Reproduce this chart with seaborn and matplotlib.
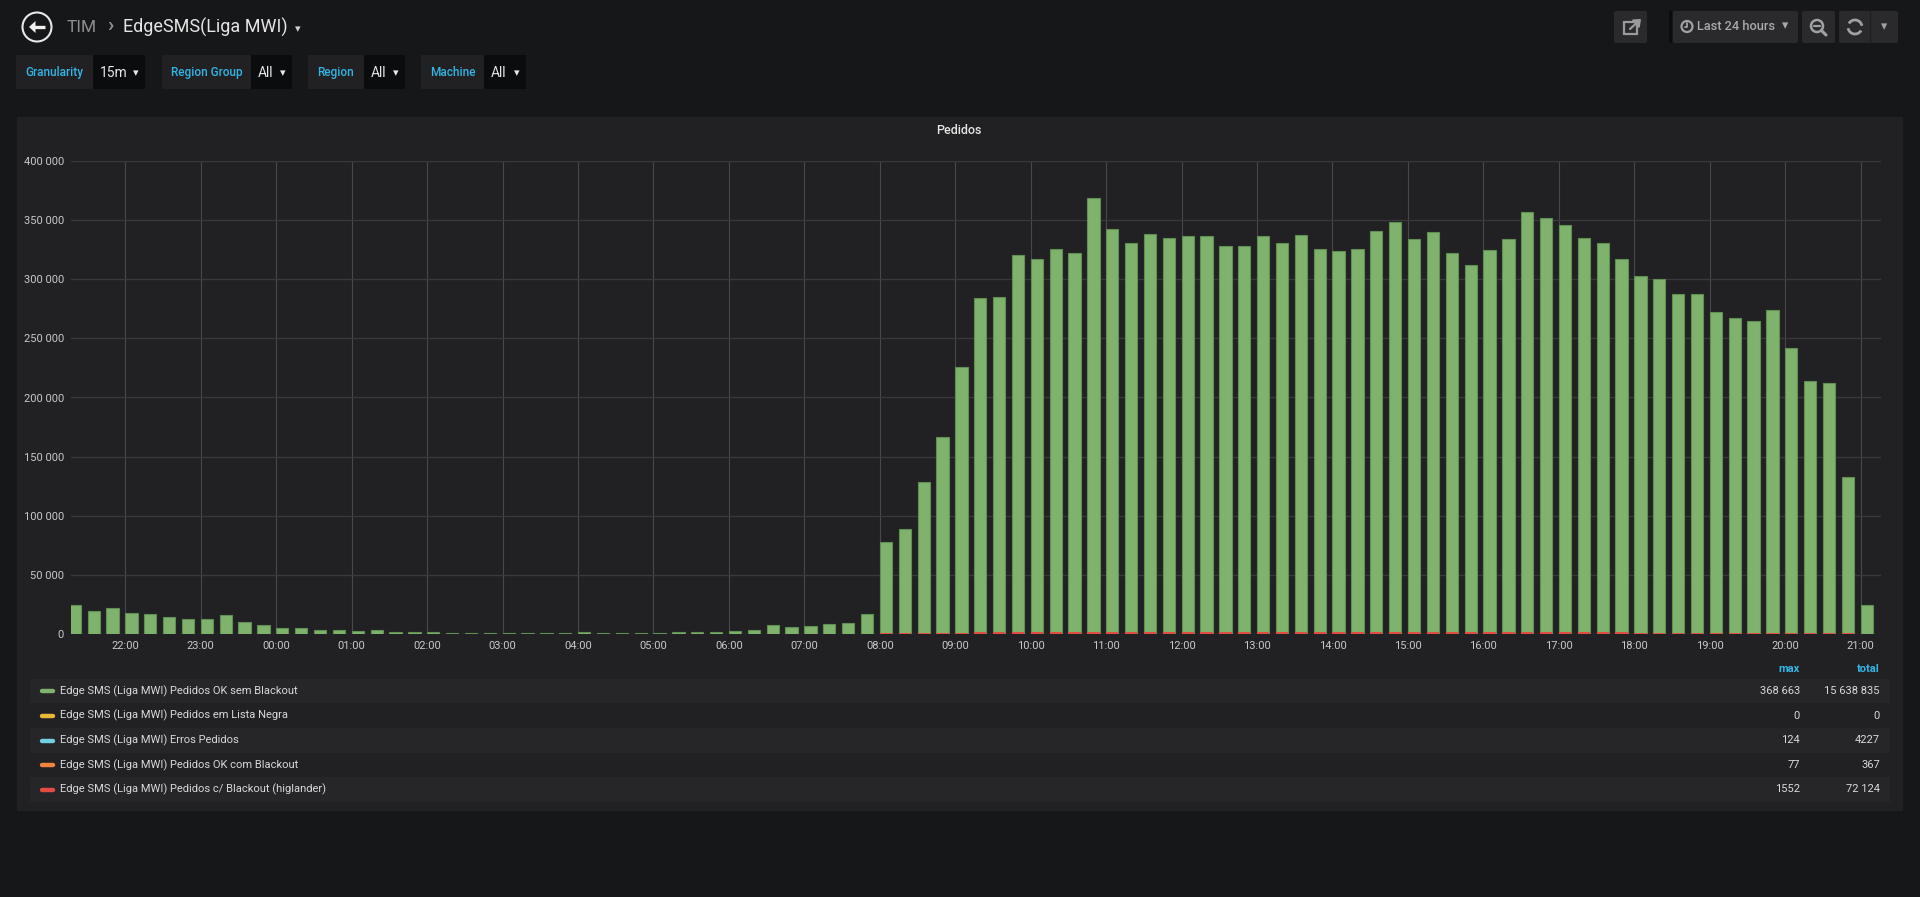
import matplotlib
matplotlib.use("Agg")
import matplotlib.pyplot as plt
from matplotlib.patches import Rectangle, Circle, FancyBboxPatch, Arc, Polygon
from matplotlib.ticker import FuncFormatter, MultipleLocator
import pandas as pd
import seaborn as sns

W, H = 1920, 897

# 15 minute buckets, last 24 hours
start_time = "2019-05-20 21:15"

ok_sem_blackout = [
    24900, 19500, 22100, 18100, 16700, 14400, 12700, 12700, 15800, 10500, 7400,
    4800, 5400, 3100, 3400, 2500, 3100, 1700, 1700, 1400, 1100, 1100, 1100, 1100,
    850, 850, 850, 1400, 600, 600, 850, 600, 1400, 1400, 2000, 2500, 3700, 7900,
    5700, 7100, 8200, 9000, 17300, 77800, 88600, 128500, 166700, 225700, 284500,
    285300, 320900, 317500, 325200, 322300, 368663, 342100, 330800, 338400,
    334500, 336500, 336700, 328300, 327700, 336500, 330800, 337000, 325400,
    324000, 325700, 341000, 348000, 334200, 339600, 322300, 312200, 324900,
    333900, 356500, 351400, 346300, 334500, 330800, 317500, 303100, 300300,
    287900, 287300, 272300, 267200, 264700, 273700, 241500, 214100, 212400,
    132500, 24900,
]

blackout_higlander = [
    420, 350, 380, 330, 300, 270, 240, 240, 290, 200, 150,
    100, 110, 70, 70, 50, 60, 40, 40, 30, 30, 30, 30, 30,
    20, 20, 20, 30, 20, 20, 20, 20, 30, 30, 40, 50, 70, 150,
    110, 140, 160, 170, 330, 800, 900, 1050, 1150, 1250, 1300,
    1320, 1380, 1350, 1400, 1380, 1552, 1420, 1380, 1400,
    1390, 1400, 1410, 1370, 1360, 1400, 1380, 1400, 1350,
    1340, 1350, 1410, 1440, 1390, 1410, 1340, 1300, 1350,
    1380, 1470, 1450, 1430, 1390, 1370, 1320, 1260, 1250,
    1200, 1190, 1130, 1110, 1100, 1140, 1000, 890, 880,
    550, 100,
]

legend_names = [
    "Edge SMS (Liga MWI) Pedidos OK sem Blackout",
    "Edge SMS (Liga MWI) Pedidos em Lista Negra",
    "Edge SMS (Liga MWI) Erros Pedidos",
    "Edge SMS (Liga MWI) Pedidos OK com Blackout",
    "Edge SMS (Liga MWI) Pedidos c/ Blackout (higlander)",
]
legend_colors = ["#7eb26d", "#eab839", "#6ed0e0", "#ef843c", "#e24d42"]
legend_max = ["368 663", "0", "124", "77", "1552"]
legend_total = ["15 638 835", "0", "4227", "367", "72 124"]

variables = ["Granularity", "Region Group", "Region", "Machine"]
variable_values = ["15m", "All", "All", "All"]

BG = "#161719"
PANEL = "#212124"
TEXT = "#d8d9da"
BLUE = "#33b5e5"

sns.set_theme(style="dark")
plt.rcParams["font.family"] = ["Roboto", "DejaVu Sans"]

times = pd.date_range(start_time, periods=len(ok_sem_blackout), freq="15min")
df = pd.DataFrame({"time": times, "ok": ok_sem_blackout, "hig": blackout_higlander})
df["minutes"] = (df["time"] - df["time"].iloc[0]).dt.total_seconds() / 60
bar_frac = 0.65
# grafana puts the left edge of each bar on its timestamp
df["mid"] = df["minutes"] + 15 * bar_frac / 2

fig = plt.figure(figsize=(W / 100, H / 100), dpi=100, facecolor=BG)

# background layer in pixel coordinates
bg = fig.add_axes([0, 0, 1, 1], zorder=0)
bg.set_xlim(0, W)
bg.set_ylim(H, 0)
bg.axis("off")
bg.set_facecolor(BG)

bg.add_patch(Rectangle((17, 117), 1886, 694, color=PANEL, lw=0))

# header: back button
bg.add_patch(Circle((37, 27), 14.5, fc="none", ec="#e8e8e8", lw=1.5))
bg.plot([33, 44.5], [27, 27], color="#f0f0f0", lw=2.4, solid_capstyle="butt")
bg.add_patch(Polygon([(29, 27), (35.5, 21), (35.5, 33)], closed=True,
                     fc="#f0f0f0", ec="none"))
bg.text(67, 27, "TIM", color="#8e8e8e", fontsize=12.5, va="center")
bg.text(110, 26, "\u203a", color="#8e8e8e", fontsize=15, va="center", ha="center",
        weight="bold")
bg.text(123, 27, "EdgeSMS(Liga MWI)", color="#e6e6e6", fontsize=13, va="center")
bg.text(298, 29, "\u25be", color="#d0d0d0", fontsize=8, va="center", ha="center",
        family="DejaVu Sans")

# variable pickers
var_boxes = [(16, 93, 145), (162, 251, 292), (308, 364, 405), (421, 484, 526)]
for (x0, x1, x2), lab, val in zip(var_boxes, variables, variable_values):
    bg.add_patch(Rectangle((x0, 55), x1 - x0, 34, color="#212124", lw=0))
    bg.add_patch(Rectangle((x1, 55), x2 - x1, 34, color="#0b0c0e", lw=0))
    bg.text((x0 + x1) / 2, 72.5, lab, color=BLUE, fontsize=8.5, weight="medium",
            ha="center", va="center")
    bg.text(x1 + 7, 73, val, color="#e8e8e8", fontsize=10, va="center")
    bg.text(x2 - 9, 73, "\u25be", color="#e8e8e8", fontsize=8, va="center",
            ha="center", family="DejaVu Sans")

# top right buttons
btn = "#2a2a2d"
for x0, x1 in [(1614, 1647), (1673, 1798), (1802, 1835), (1839, 1898)]:
    bg.add_patch(FancyBboxPatch((x0, 11), x1 - x0, 32, boxstyle="round,pad=0,rounding_size=2",
                                color=btn, lw=0))
bg.plot([1870, 1870], [11, 43], color="#1f1f21", lw=1)
bg.add_patch(Rectangle((1669, 11), 3, 32, color="#0b0c0e", lw=0))
# share icon
bg.add_patch(Rectangle((1624, 22), 13, 12, fill=False, ec="#9a9a9c", lw=1.6))
bg.annotate("", xy=(1641, 19), xytext=(1630, 29),
            arrowprops=dict(arrowstyle="-|>,head_length=0.3,head_width=0.25",
                            color="#9a9a9c", lw=1.6, shrinkA=0, shrinkB=0))
# time picker
bg.add_patch(Circle((1687, 26.5), 5.5, fill=False, ec="#a0a1a3", lw=1.6))
bg.plot([1687, 1687, 1684.5], [23, 27, 27], color="#a0a1a3", lw=1.3)
bg.text(1697, 27, "Last 24 hours", color="#a8a9ab", fontsize=9.2, weight="medium",
        va="center")
bg.text(1785, 26, "\u25be", color="#a8a9ab", fontsize=9, va="center", ha="center",
        family="DejaVu Sans")
# zoom out
bg.add_patch(Circle((1817, 26), 6, fill=False, ec="#a0a1a3", lw=1.8))
bg.plot([1814, 1820], [26, 26], color="#a0a1a3", lw=1.6)
bg.plot([1821.5, 1826], [30.5, 35], color="#a0a1a3", lw=2.2)
# refresh
bg.add_patch(Arc((1855, 27), 14, 14, theta1=30, theta2=170, color="#a0a1a3", lw=2))
bg.add_patch(Arc((1855, 27), 14, 14, theta1=210, theta2=350, color="#a0a1a3", lw=2))
bg.text(1884, 27, "\u25be", color="#a0a1a3", fontsize=9, va="center", ha="center",
        family="DejaVu Sans")

# panel title
bg.text(959, 131, "Pedidos", color="#e6e6e6", fontsize=9, weight="medium",
        ha="center", va="center")

# legend table
bg.text(1800, 669, "max", color=BLUE, fontsize=8, weight="bold", ha="right", va="center")
bg.text(1880, 669, "total", color=BLUE, fontsize=8, weight="bold", ha="right", va="center")
for i, (name, col, mx, tot) in enumerate(zip(legend_names, legend_colors,
                                             legend_max, legend_total)):
    yc = 691 + i * 24.6
    if i % 2 == 0:
        bg.add_patch(Rectangle((30, yc - 12.3), 1860, 24.6, color="#262629", lw=0))
    bg.plot([42, 53], [yc + 0.5, yc + 0.5], color=col, lw=3.2, solid_capstyle="round")
    bg.text(60, yc, name, color=TEXT, fontsize=8, va="center")
    bg.text(1800, yc, mx, color=TEXT, fontsize=8, va="center", ha="right")
    bg.text(1880, yc, tot, color=TEXT, fontsize=8, va="center", ha="right")

# the graph itself
ax = fig.add_axes([71 / W, 1 - 634 / H, (1881 - 71) / W, (634 - 161) / H], zorder=1)
ax.set_facecolor("none")
sns.barplot(data=df, x="mid", y="ok", native_scale=True, width=bar_frac,
            color="#7eb26d", saturation=1, edgecolor="#5f8f51", linewidth=0.8,
            errorbar=None, ax=ax, zorder=2)
sns.barplot(data=df, x="mid", y="hig", native_scale=True, width=bar_frac,
            color="#e24d42", saturation=1, linewidth=0, errorbar=None, ax=ax, zorder=3)

ax.set_xlim(1.8, 1441.2)
ax.set_ylim(0, 400000)
ax.yaxis.set_major_locator(MultipleLocator(50000))
ax.yaxis.set_major_formatter(FuncFormatter(lambda v, p: format(int(v), ",").replace(",", " ")))
hours = df[df["time"].dt.minute == 0]
ax.set_xticks(hours["minutes"])
ax.set_xticklabels(hours["time"].dt.strftime("%H:%M"))
ax.set_xlabel("")
ax.set_ylabel("")
ax.grid(True, axis="y", color="#39393c", lw=1)
ax.grid(True, axis="x", color="#48484b", lw=0.8)
ax.set_axisbelow(True)
for s in ax.spines.values():
    s.set_visible(False)
ax.tick_params(axis="both", length=0, labelsize=8, labelcolor="#c8c9ca")
ax.tick_params(axis="y", pad=5)
ax.tick_params(axis="x", pad=5)

fig.savefig("out.png", dpi=100, facecolor=BG)
